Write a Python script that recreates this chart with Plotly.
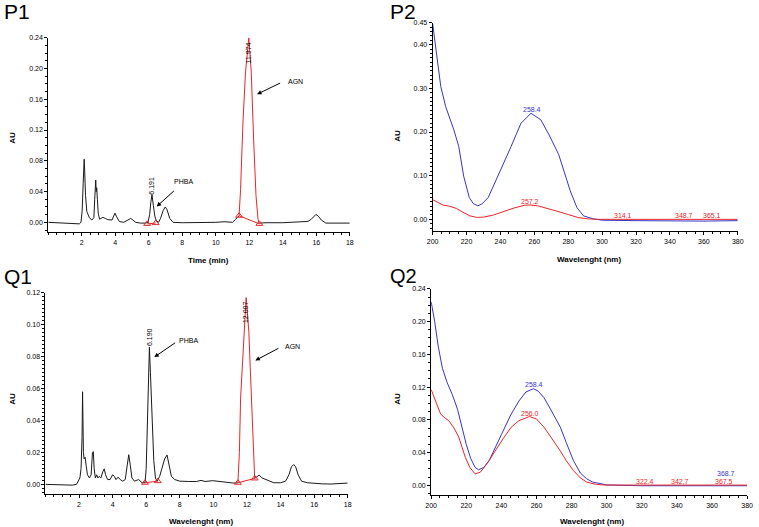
import plotly.graph_objects as go

W, H = 759, 527

# ---------------- DATA ----------------
# P1 chromatogram (time min, AU)
p1_black_a_t = [0.0, 0.5, 1.0, 1.5, 1.85, 1.95, 2.02, 2.08, 2.14, 2.17, 2.22, 2.3, 2.45, 2.6, 2.72, 2.77, 2.83, 2.86, 2.89, 2.93, 2.98, 3.06, 3.15, 3.26, 3.4, 3.55, 3.8, 3.9, 3.98, 4.06, 4.24, 4.5, 4.7, 4.92, 5.05, 5.22, 5.5, 5.8, 5.95, 6.05, 6.12, 6.19, 6.27, 6.36, 6.45, 6.58, 6.7, 6.85, 6.98, 7.08, 7.25, 7.45, 8.0, 9.0, 10.0, 10.5, 11.0, 11.19, 11.39]
p1_black_a_v = [0.000, -0.0005, -0.001, -0.0015, -0.002, 0.000, 0.015, 0.05, 0.082, 0.068, 0.035, 0.014, 0.006, 0.003, 0.006, 0.03, 0.055, 0.04, 0.045, 0.03, 0.012, 0.004, 0.005, 0.0065, 0.005, 0.0035, 0.003, 0.007, 0.012, 0.008, 0.001, 0.000, 0.002, 0.005, 0.003, 0.000, -0.001, -0.001, 0.000, 0.01, 0.026, 0.036, 0.022, 0.008, 0.002, 0.000, 0.005, 0.015, 0.020, 0.017, 0.005, 0.000, -0.0005, -0.0005, 0.000, 0.0008, 0.000, 0.004, 0.0086]
p1_agn_t = [11.39, 11.48, 11.62, 11.77, 11.97, 12.12, 12.26, 12.4, 12.52, 12.6]
p1_agn_v = [0.0086, 0.043, 0.129, 0.194, 0.240, 0.194, 0.107, 0.035, 0.004, -0.002]
p1_black_b_t = [12.6, 13.0, 14.0, 14.4, 14.71, 15.2, 15.5, 15.7, 15.85, 15.98, 16.12, 16.3, 16.57, 17.0, 17.5, 18.0]
p1_black_b_v = [-0.001, -0.0005, -0.0005, 0.000, 0.001, 0.001, 0.0012, 0.004, 0.008, 0.0103, 0.008, 0.003, -0.001, -0.0008, -0.001, -0.001]
p1_tri_t = [5.9, 6.41, 11.39, 12.6]
p1_tri_v = [-0.002, -0.001, 0.0086, -0.002]

# Q1 chromatogram (time min, AU)
q1_black_a_t = [0.0, 1.0, 1.6, 1.85, 1.95, 2.05, 2.12, 2.18, 2.21, 2.23, 2.26, 2.3, 2.36, 2.42, 2.5, 2.62, 2.72, 2.8, 2.85, 2.9, 2.97, 3.05, 3.12, 3.2, 3.3, 3.42, 3.5, 3.58, 3.7, 3.85, 4.0, 4.1, 4.2, 4.33, 4.45, 4.6, 4.75, 4.87, 4.96, 5.05, 5.15, 5.3, 5.55, 5.75, 5.93, 6.0, 6.1, 6.19, 6.25, 6.35, 6.45, 6.55, 6.65, 6.8, 6.95, 7.1, 7.24, 7.35, 7.5, 7.7, 8.0, 8.5, 9.0, 9.26, 9.5, 9.96, 10.3, 10.8, 11.2, 11.46]
q1_black_a_v = [0.000, -0.0005, -0.0005, 0.000, 0.002, 0.004, 0.01, 0.03, 0.058, 0.038, 0.02, 0.016, 0.017, 0.012, 0.006, 0.004, 0.006, 0.02, 0.0205, 0.01, 0.004, 0.006, 0.004, 0.005, 0.004, 0.008, 0.0097, 0.006, 0.003, 0.003, 0.006, 0.005, 0.003, 0.0045, 0.003, 0.002, 0.003, 0.012, 0.0186, 0.012, 0.004, 0.002, 0.003, 0.001, 0.001, 0.01, 0.05, 0.086, 0.07, 0.04, 0.015, 0.004, 0.002, 0.005, 0.01, 0.016, 0.0184, 0.013, 0.005, 0.003, 0.002, 0.0018, 0.0018, 0.0025, 0.0018, 0.0023, 0.0018, 0.001, 0.0008, 0.001]
q1_agn_t = [11.46, 11.55, 11.62, 11.82, 11.95, 12.11, 12.3, 12.4, 12.46]
q1_agn_v = [0.001, 0.02, 0.054, 0.096, 0.117, 0.096, 0.044, 0.015, 0.0037]
q1_black_b_t = [12.46, 12.6, 12.73, 12.9, 13.1, 13.3, 13.6, 14.0, 14.3, 14.5, 14.65, 14.78, 14.9, 15.05, 15.25, 15.6, 16.0, 16.5, 17.0, 17.5, 18.0]
q1_black_b_v = [0.0037, 0.005, 0.0058, 0.004, 0.003, 0.0025, 0.001, 0.001, 0.002, 0.006, 0.011, 0.0124, 0.011, 0.006, 0.002, 0.001, 0.0005, 0.0003, 0.0002, 0.0005, 0.0008]
q1_tri_t = [5.93, 6.69, 11.46, 12.46]
q1_tri_v = [0.001, 0.002, 0.001, 0.0037]

# P2 spectra (wavelength nm, AU)
p2_blue_wl = [200, 201.9, 204.8, 207.7, 212.5, 215.4, 218.3, 221.6, 224, 226.6, 229, 232.8, 238.6, 246.3, 252.1, 258.0, 263.8, 268.6, 274.4, 277.3, 281.2, 285.1, 289.0, 294.8, 300, 320, 340, 360, 380]
p2_blue_v = [0.448, 0.395, 0.304, 0.258, 0.205, 0.167, 0.099, 0.05, 0.036, 0.031, 0.035, 0.05, 0.099, 0.167, 0.22, 0.243, 0.228, 0.194, 0.148, 0.114, 0.065, 0.027, 0.008, 0.001, -0.002, -0.003, -0.004, -0.004, -0.003]
p2_red_wl = [200, 203, 206, 210, 214, 218, 222, 226, 230, 236, 242, 248, 254, 257.2, 262, 268, 274, 280, 286, 292, 298, 320, 380]
p2_red_v = [0.045, 0.038, 0.033, 0.030, 0.025, 0.016, 0.008, 0.0045, 0.005, 0.010, 0.018, 0.026, 0.032, 0.033, 0.031, 0.025, 0.018, 0.011, 0.004, 0.001, 0.000, 0.000, 0.000]

# Q2 spectra (wavelength nm, AU)
q2_blue_wl = [200, 202, 204, 206.4, 209, 212, 215, 217.6, 220, 222.5, 225, 227, 230, 233, 236.3, 240, 245.6, 250, 254, 258.3, 261, 264.3, 268, 273.6, 277, 281.1, 285, 288.6, 292, 296, 300, 320, 380]
q2_blue_v = [0.224, 0.2, 0.17, 0.143, 0.126, 0.111, 0.093, 0.071, 0.05, 0.033, 0.022, 0.019, 0.022, 0.03, 0.046, 0.062, 0.087, 0.103, 0.114, 0.118, 0.115, 0.107, 0.093, 0.071, 0.052, 0.030, 0.015, 0.008, 0.004, 0.002, 0.0005, -0.0005, -0.0005]
q2_red_wl = [200, 202, 205.4, 208, 210, 213, 215.7, 219.5, 222, 225, 228, 232, 236.3, 241, 245.6, 250, 256, 260, 264.3, 269, 273.6, 277, 281.1, 285, 288.6, 294.2, 300, 380]
q2_red_v = [0.117, 0.105, 0.087, 0.082, 0.079, 0.07, 0.059, 0.034, 0.022, 0.014, 0.016, 0.027, 0.042, 0.057, 0.071, 0.079, 0.084, 0.081, 0.071, 0.057, 0.042, 0.030, 0.018, 0.009, 0.004, 0.001, 0.0003, 0.0003]

chrom_ticks = [2, 4, 6, 8, 10, 12, 14, 16, 18]
spec_ticks = [200, 220, 240, 260, 280, 300, 320, 340, 360, 380]
p1_yticks = [0.00, 0.04, 0.08, 0.12, 0.16, 0.20, 0.24]
p2_yticks = [0.00, 0.10, 0.20, 0.30, 0.40, 0.45]
q1_yticks = [0.00, 0.02, 0.04, 0.06, 0.08, 0.10, 0.12]
q2_yticks = [0.00, 0.04, 0.08, 0.12, 0.16, 0.20, 0.24]

# ---------------- STYLE ----------------
BLACK = "#1a1a1a"
RED = "#e8262a"
BLUE = "#3535c8"
FONT = "Liberation Sans, Arial, sans-serif"


def px_x(p):
    return p / W


def px_y(p):
    return 1 - p / H


fig = go.Figure()


def line(x, y, color, xa, ya, width=1.0):
    fig.add_trace(go.Scatter(x=x, y=y, mode="lines", line=dict(color=color, width=width),
                             xaxis=xa, yaxis=ya, showlegend=False, hoverinfo="skip"))


# P1
line(p1_black_a_t, p1_black_a_v, BLACK, "x", "y")
line(p1_black_b_t, p1_black_b_v, BLACK, "x", "y")
line(p1_agn_t, p1_agn_v, RED, "x", "y")
line(p1_tri_t[0:2], p1_tri_v[0:2], RED, "x", "y")
line(p1_tri_t[2:4], p1_tri_v[2:4], RED, "x", "y")
fig.add_trace(go.Scatter(x=p1_tri_t, y=p1_tri_v, mode="markers", xaxis="x", yaxis="y",
                         marker=dict(symbol="triangle-up-open", color=RED, size=6, line=dict(width=1)),
                         showlegend=False, hoverinfo="skip"))
# P2
line(p2_blue_wl, p2_blue_v, BLUE, "x2", "y2")
line(p2_red_wl, p2_red_v, RED, "x2", "y2")
# Q1
line(q1_black_a_t, q1_black_a_v, BLACK, "x3", "y3")
line(q1_black_b_t, q1_black_b_v, BLACK, "x3", "y3")
line(q1_agn_t, q1_agn_v, RED, "x3", "y3")
line(q1_tri_t[0:2], q1_tri_v[0:2], RED, "x3", "y3")
line(q1_tri_t[2:4], q1_tri_v[2:4], RED, "x3", "y3")
fig.add_trace(go.Scatter(x=q1_tri_t, y=q1_tri_v, mode="markers", xaxis="x3", yaxis="y3",
                         marker=dict(symbol="triangle-up-open", color=RED, size=6, line=dict(width=1)),
                         showlegend=False, hoverinfo="skip"))
# Q2
line(q2_blue_wl, q2_blue_v, BLUE, "x4", "y4")
line(q2_red_wl, q2_red_v, RED, "x4", "y4")

tickfont = dict(family=FONT, size=7, color="black")


def xaxis(left, right, rng, tickvals, anchor):
    return dict(domain=[px_x(left), px_x(right)], range=rng, anchor=anchor,
                showline=True, linecolor="black", linewidth=1, mirror=False,
                showgrid=False, zeroline=False, ticks="outside", ticklen=3, tickwidth=1,
                tickcolor="black", tickmode="array", tickvals=tickvals,
                ticktext=[str(v) for v in tickvals], tickfont=tickfont, fixedrange=True)


def yaxis(bottom, top, rng, tickvals, anchor):
    return dict(domain=[px_y(bottom), px_y(top)], range=rng, anchor=anchor,
                showline=True, linecolor="black", linewidth=1,
                showgrid=False, zeroline=False, ticks="outside", ticklen=3, tickwidth=1,
                tickcolor="black", tickmode="array", tickvals=tickvals,
                ticktext=["%.2f" % v for v in tickvals], tickfont=tickfont, fixedrange=True)


def minor_x(left, right, rng, dtick, anchor, over):
    return dict(domain=[px_x(left), px_x(right)], range=rng, anchor=anchor, overlaying=over,
                showline=False, showgrid=False, zeroline=False, ticks="outside", ticklen=2,
                tickwidth=1, tickcolor="black", tickmode="linear", tick0=rng[0], dtick=dtick,
                showticklabels=False, fixedrange=True, side="bottom")


def minor_y(bottom, top, rng, dtick, anchor, over):
    return dict(domain=[px_y(bottom), px_y(top)], range=rng, anchor=anchor, overlaying=over,
                showline=False, showgrid=False, zeroline=False, ticks="outside", ticklen=2,
                tickwidth=1, tickcolor="black", tickmode="linear", tick0=0, dtick=dtick,
                showticklabels=False, fixedrange=True, side="left")


geo = {
    1: (43, 349.3, [0, 18], 230, 34, [-0.0129, 0.24], chrom_ticks, p1_yticks, 0.5, 0.01),
    2: (433.5, 743.5, [200, 380], 229, 19, [-0.0273, 0.45], spec_ticks, p2_yticks, 5, 0.01),
    3: (40.1, 347.2, [0, 18], 494, 291, [-0.0062, 0.12], chrom_ticks, q1_yticks, 0.5, 0.0025),
    4: (432, 753, [200, 380], 495, 287, [-0.0121, 0.24], spec_ticks, q2_yticks, 5, 0.01),
}

layout_axes = {}
for i, (l, r, xr, b, t, yr, xt, yt, mx, my) in geo.items():
    sx = "" if i == 1 else str(i)
    layout_axes["xaxis" + sx] = xaxis(l, r, xr, xt, "y" + sx)
    layout_axes["yaxis" + sx] = yaxis(b, t, yr, yt, "x" + sx)
    j = str(i + 4)
    layout_axes["xaxis" + j] = minor_x(l, r, xr, mx, "y" + sx, "x" + sx)
    layout_axes["yaxis" + j] = minor_y(b, t, yr, my, "x" + sx, "y" + sx)
    layout_axes["xaxis" + j]["anchor"] = "y" + j
    layout_axes["yaxis" + j]["anchor"] = "x" + j
    fig.add_trace(go.Scatter(x=[None], y=[None], mode="lines", xaxis="x" + j, yaxis="y" + j,
                             showlegend=False, hoverinfo="skip"))

fig.update_layout(width=W, height=H, margin=dict(l=0, r=0, t=0, b=0),
                  paper_bgcolor="white", plot_bgcolor="white", showlegend=False, **layout_axes)

ann = []


def ptext(text, x, y, size=8, bold=False, angle=0):
    ann.append(dict(text=("<b>%s</b>" % text) if bold else text, x=px_x(x), y=px_y(y),
                    xref="paper", yref="paper", showarrow=False, textangle=angle,
                    font=dict(family=FONT, size=size, color="black"),
                    xanchor="center", yanchor="middle"))


# panel letters
ptext("P1", 11, 8, size=21)
ptext("P2", 403, 8, size=21)
ptext("Q1", 12, 275, size=21)
ptext("Q2", 404, 274, size=20)
# axis titles
ptext("AU", 7, 135, size=8, bold=True, angle=-90)
ptext("AU", 398, 133, size=8, bold=True, angle=-90)
ptext("AU", 7, 398, size=8, bold=True, angle=-90)
ptext("AU", 398, 398, size=8, bold=True, angle=-90)
ptext("Time (min)", 206, 258, size=8, bold=True)
ptext("Wavelenght (nm)", 592, 257, size=8, bold=True)
ptext("Wavelenght (nm)", 198, 521, size=8, bold=True)
ptext("Wavelenght (nm)", 595, 521, size=8, bold=True)


def dtext(text, x, y, xr, yr, color="black", size=7, angle=0):
    ann.append(dict(text=text, x=x, y=y, xref=xr, yref=yr, showarrow=False, textangle=angle,
                    font=dict(family=FONT, size=size, color=color), xanchor="center", yanchor="middle"))


def arrow(x, y, ax, ay, xr, yr):
    ann.append(dict(text="", x=x, y=y, ax=ax, ay=ay, xref=xr, yref=yr, axref=xr, ayref=yr,
                    showarrow=True, arrowhead=2, arrowsize=0.9, arrowwidth=1, arrowcolor="black"))


# P1 annotations
dtext("6.191", 6.19, 0.0477, "x", "y", angle=-90)
dtext("11.974", 11.97, 0.2206, "x", "y", angle=-90)
dtext("PHBA", 8.05, 0.053, "x", "y")
arrow(6.47, 0.0206, 7.59, 0.0426, "x", "y")
dtext("AGN", 14.75, 0.183, "x", "y")
arrow(12.46, 0.1665, 13.93, 0.182, "x", "y")
# Q1 annotations
dtext("6.190", 6.19, 0.0925, "x3", "y3", angle=-90)
dtext("12.007", 11.95, 0.108, "x3", "y3", angle=-90)
dtext("PHBA", 8.49, 0.090, "x3", "y3")
arrow(6.48, 0.0797, 7.81, 0.0893, "x3", "y3")
dtext("AGN", 14.69, 0.0863, "x3", "y3")
arrow(12.5, 0.0776, 13.96, 0.0857, "x3", "y3")
# P2 labels
dtext("258.4", 258.5, 0.2507, "x2", "y2", color=BLUE)
dtext("257.2", 257.6, 0.041, "x2", "y2", color=RED)
dtext("314.1", 312.5, 0.0098, "x2", "y2", color=RED)
dtext("348.7", 348.5, 0.0098, "x2", "y2", color=RED)
dtext("365.1", 365.0, 0.0098, "x2", "y2", color=RED)
# Q2 labels
dtext("258.4", 258.7, 0.1233, "x4", "y4", color=BLUE)
dtext("256.0", 256.2, 0.0876, "x4", "y4", color=RED)
dtext("322.4", 321.9, 0.0052, "x4", "y4", color=RED)
dtext("342.7", 341.9, 0.0052, "x4", "y4", color=RED)
dtext("367.5", 366.7, 0.0052, "x4", "y4", color=RED)
dtext("368.7", 368.1, 0.0142, "x4", "y4", color=BLUE)

fig.update_layout(annotations=ann)
fig.write_html("out.html", config={"displayModeBar": False},
               post_script="document.body.style.margin='0';document.body.style.overflow='hidden';")
